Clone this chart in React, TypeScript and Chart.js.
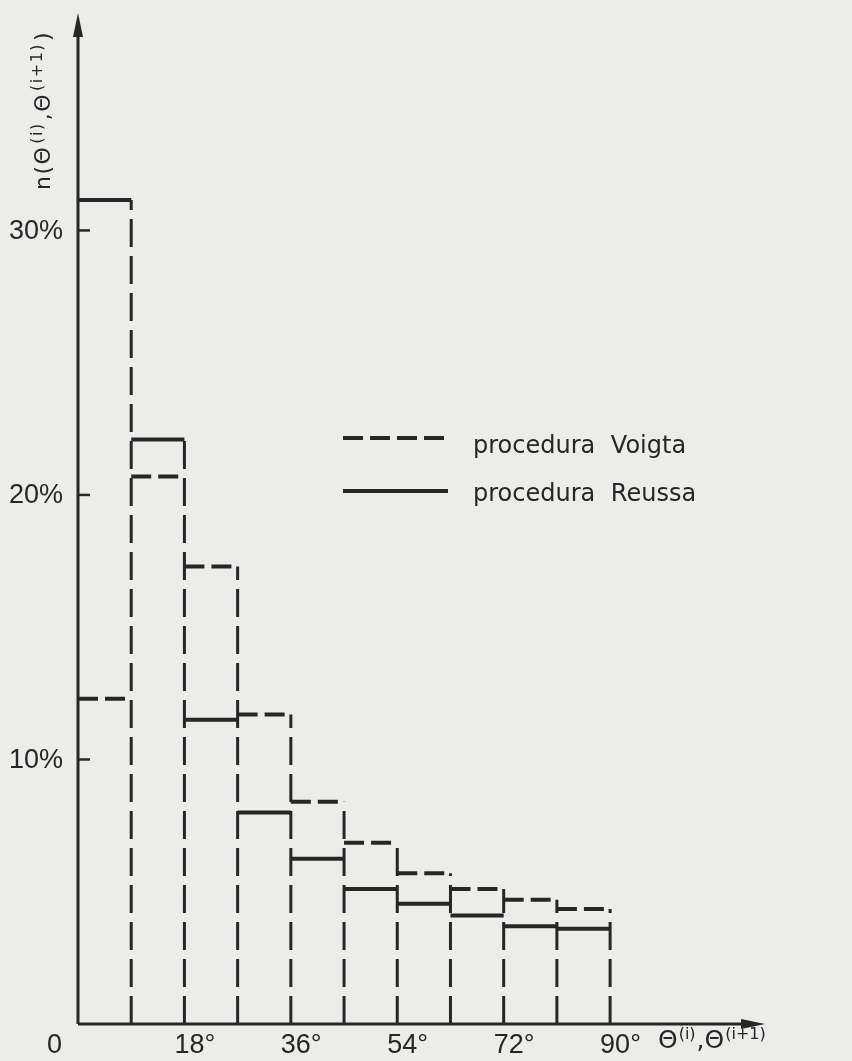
import React, { useEffect, useRef } from "react";
import { Chart, registerables } from "chart.js";

Chart.register(...registerables);

// ---- data ----
const binEdges = [0, 9, 18, 27, 36, 45, 54, 63, 72, 81, 90];
const voigtValues = [12.3, 20.7, 17.3, 11.7, 8.4, 6.85, 5.7, 5.1, 4.7, 4.35];
const reussValues = [31.15, 22.1, 11.5, 8.0, 6.25, 5.1, 4.55, 4.1, 3.7, 3.6];
const xTickValues = [0, 18, 36, 54, 72, 90];
const xTickLabels = ["0", "18°", "36°", "54°", "72°", "90°"];
const yTickValues = [10, 20, 30];
const yTickLabels = ["10%", "20%", "30%"];
const seriesLabels = ["procedura Voigta", "procedura Reussa"];

const INK = "#262626";
const PAPER = "#ececea";
const TICK_FONT = "27px 'Liberation Sans', Arial, sans-serif";
const LEGEND_FONT = "24px 'DejaVu Sans', sans-serif";

type P = { x: number; y: number | null };

function stepTops(values: number[]): P[] {
  const pts: P[] = [];
  values.forEach((v, i) => {
    pts.push({ x: binEdges[i], y: v });
    pts.push({ x: binEdges[i + 1], y: v });
    pts.push({ x: binEdges[i + 1], y: null });
  });
  return pts;
}

function boundaries(): P[] {
  const pts: P[] = [];
  for (let i = 1; i < binEdges.length; i++) {
    const around: number[] = [];
    [i - 1, i].forEach((b) => {
      if (b >= 0 && b < voigtValues.length) {
        around.push(voigtValues[b], reussValues[b]);
      }
    });
    const top = Math.max(...around);
    pts.push({ x: binEdges[i], y: 0 });
    pts.push({ x: binEdges[i], y: top });
    pts.push({ x: binEdges[i], y: null });
  }
  return pts;
}

const paperPlugin = {
  id: "paper",
  beforeDraw(chart: any) {
    const ctx = chart.ctx;
    ctx.save();
    ctx.fillStyle = PAPER;
    ctx.fillRect(0, 0, chart.width, chart.height);
    ctx.restore();
  },
};

function drawRich(
  ctx: CanvasRenderingContext2D,
  pieces: { t: string; sup: boolean }[],
  x: number,
  y: number,
  mainFont: string,
  supFont: string,
  rise: number,
  gap: number
) {
  let cx = x;
  pieces.forEach((p) => {
    ctx.font = p.sup ? supFont : mainFont;
    ctx.fillText(p.t, cx, p.sup ? y - rise : y);
    cx += ctx.measureText(p.t).width + gap;
  });
}

const decorPlugin = {
  id: "decor",
  afterDatasetsDraw(chart: any) {
    const ctx: CanvasRenderingContext2D = chart.ctx;
    const xs = chart.scales.x;
    const ys = chart.scales.y;
    const x0 = xs.getPixelForValue(0);
    const y0 = ys.getPixelForValue(0);
    const top = chart.chartArea.top;
    const right = chart.chartArea.right;

    ctx.save();
    ctx.strokeStyle = INK;
    ctx.fillStyle = INK;
    ctx.lineWidth = 3;
    ctx.setLineDash([]);

    // axes
    ctx.beginPath();
    ctx.moveTo(x0, y0);
    ctx.lineTo(x0, top + 14);
    ctx.moveTo(x0, y0);
    ctx.lineTo(right - 14, y0);
    ctx.stroke();
    // arrow heads
    ctx.beginPath();
    ctx.moveTo(x0, top);
    ctx.lineTo(x0 - 5, top + 24);
    ctx.lineTo(x0 + 5, top + 24);
    ctx.closePath();
    ctx.fill();
    ctx.beginPath();
    ctx.moveTo(right, y0);
    ctx.lineTo(right - 24, y0 - 5);
    ctx.lineTo(right - 24, y0 + 5);
    ctx.closePath();
    ctx.fill();

    // y ticks
    ctx.lineWidth = 2.5;
    yTickValues.forEach((v, i) => {
      const py = ys.getPixelForValue(v);
      ctx.beginPath();
      ctx.moveTo(x0, py);
      ctx.lineTo(x0 + 12, py);
      ctx.stroke();
      ctx.font = TICK_FONT;
      ctx.textAlign = "right";
      ctx.textBaseline = "middle";
      ctx.fillText(yTickLabels[i], x0 - 15, py + 1);
    });

    // x tick labels
    ctx.font = TICK_FONT;
    ctx.textBaseline = "alphabetic";
    xTickValues.forEach((v, i) => {
      const px = xs.getPixelForValue(v);
      if (v === 0) {
        ctx.textAlign = "right";
        ctx.fillText(xTickLabels[i], px - 16, y0 + 29);
      } else {
        ctx.textAlign = "left";
        ctx.fillText(xTickLabels[i], px - 10, y0 + 29);
      }
    });

    // x axis title
    ctx.textAlign = "left";
    drawRich(
      ctx,
      [
        { t: "Θ", sup: false },
        { t: "(i)", sup: true },
        { t: ",Θ", sup: false },
        { t: "(i+1)", sup: true },
      ],
      658,
      y0 + 24,
      "25px 'DejaVu Sans', sans-serif",
      "16px 'DejaVu Sans', sans-serif",
      9,
      1
    );

    // y axis title (rotated)
    ctx.save();
    ctx.translate(50, 190);
    ctx.rotate(-Math.PI / 2);
    (ctx as any).letterSpacing = "1.5px";
    drawRich(
      ctx,
      [
        { t: "n(Θ", sup: false },
        { t: "(i)", sup: true },
        { t: ",Θ", sup: false },
        { t: "(i+1)", sup: true },
        { t: ")", sup: false },
      ],
      0,
      0,
      "22px 'DejaVu Sans', sans-serif",
      "16px 'DejaVu Sans', sans-serif",
      8,
      2
    );
    ctx.restore();

    // legend
    const ds = chart.data.datasets;
    const rows = [
      { d: ds[0], ly: 438, ty: 453 },
      { d: ds[1], ly: 491, ty: 501 },
    ];
    rows.forEach((r) => {
      ctx.lineWidth = r.d.borderWidth;
      ctx.setLineDash(r.d.borderDash || []);
      ctx.beginPath();
      ctx.moveTo(343, r.ly);
      ctx.lineTo(448, r.ly);
      ctx.stroke();
      ctx.setLineDash([]);
      ctx.font = LEGEND_FONT;
      (ctx as any).wordSpacing = "8px";
      ctx.textAlign = "left";
      ctx.textBaseline = "alphabetic";
      ctx.fillText(r.d.label, 473, r.ty);
      (ctx as any).wordSpacing = "0px";
    });
    ctx.restore();
  },
};

export default function App() {
  const ref = useRef<HTMLCanvasElement>(null);
  useEffect(() => {
    document.body.style.margin = "0";
    document.body.style.background = PAPER;
    const canvas = ref.current!;
    const chart = new Chart(canvas, {
      type: "line",
      data: {
        datasets: [
          {
            label: seriesLabels[0],
            data: stepTops(voigtValues) as any,
            borderColor: INK,
            borderWidth: 4,
            borderDash: [20, 7],
            pointRadius: 0,
            spanGaps: false,
            fill: false,
          },
          {
            label: seriesLabels[1],
            data: stepTops(reussValues) as any,
            borderColor: INK,
            borderWidth: 4,
            pointRadius: 0,
            spanGaps: false,
            fill: false,
          },
          {
            label: "bin edges",
            data: boundaries() as any,
            borderColor: INK,
            borderWidth: 3,
            borderDash: [28, 9],
            pointRadius: 0,
            spanGaps: false,
            fill: false,
          },
        ],
      },
      options: {
        responsive: false,
        animation: false,
        devicePixelRatio: 1,
        layout: { padding: { left: 78, right: 87, top: 13, bottom: 37 } },
        scales: {
          x: { type: "linear", min: 0, max: 116.2, display: false },
          y: { type: "linear", min: 0, max: 38.22, display: false },
        },
        plugins: {
          legend: { display: false },
          tooltip: { enabled: false },
        },
        elements: { line: { tension: 0 }, point: { radius: 0 } },
      },
      plugins: [paperPlugin, decorPlugin],
    });
    return () => chart.destroy();
  }, []);
  return (
    <canvas
      ref={ref}
      width={852}
      height={1061}
      style={{ display: "block", width: 852, height: 1061 }}
    />
  );
}
